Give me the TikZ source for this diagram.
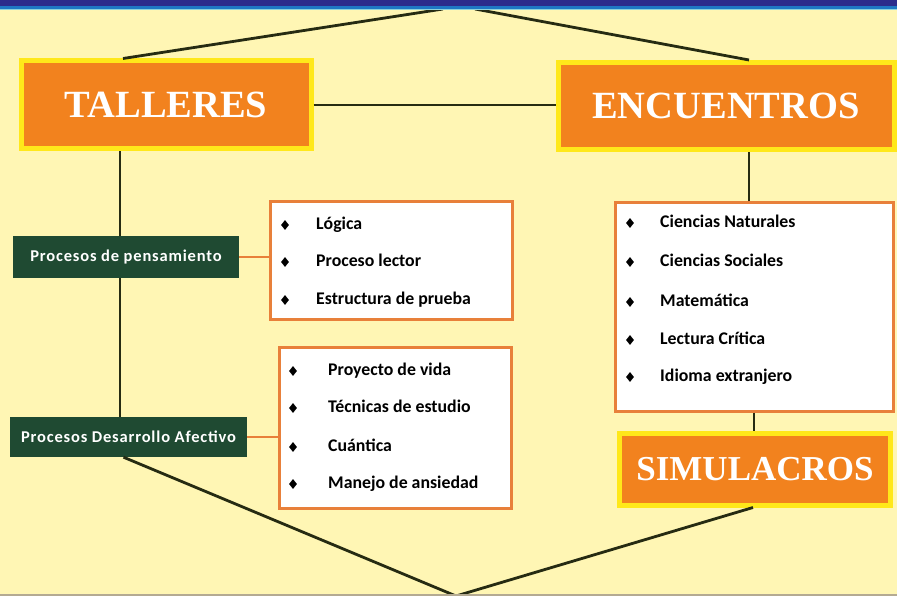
\documentclass[tikz,border=0pt]{standalone}
\usepackage{fontspec}
\setmainfont{Carlito}
\newfontfamily\titulofont{Liberation Serif}
\newfontfamily\procesofont[LetterSpace=5]{Carlito}
\usetikzlibrary{shapes.geometric}
\definecolor{fondo}{HTML}{FFF6B4}
\definecolor{naranja}{HTML}{F2821E}
\definecolor{amarillo}{HTML}{FFE81A}
\definecolor{verde}{HTML}{1F4A32}
\definecolor{naranjalinea}{HTML}{E8803A}
\definecolor{oscuro}{HTML}{262B12}
\definecolor{marino}{HTML}{2B2C8C}
\definecolor{azul}{HTML}{1E78C4}
\definecolor{celeste}{HTML}{8CD2DC}
\definecolor{piso}{HTML}{B4AA92}

\begin{document}
\begin{tikzpicture}[x=1pt,y=-1pt,
  titulo/.style={fill=naranja,draw=amarillo,line width=5pt,text=white,inner sep=0pt,
    font=\titulofont\bfseries\fontsize{38.5}{38.5}\selectfont},
  proceso/.style={fill=verde,text=white,inner sep=0pt,font=\procesofont\bfseries\fontsize{16.5}{16.5}\selectfont},
  lista/.style={fill=white,draw=naranjalinea,line width=3pt,inner sep=0pt},
  vineta/.style={diamond,fill=black,inner sep=0pt,minimum width=8pt,minimum height=10pt},
  renglon/.style={anchor=west,inner sep=0pt,text height=12.5pt,text depth=4pt,
    font=\bfseries\fontsize{17.8}{17.8}\selectfont},
  enlace/.style={draw=oscuro,line width=2.8pt},
  ramal/.style={draw=naranjalinea,line width=2.5pt}]
  % fondo
  \fill[fondo] (0,0) rectangle (897,596);
  \useasboundingbox (0,0) rectangle (897,596);

  % cajas principales
  \node[titulo,minimum width=290pt,minimum height=88pt] (talleres) at (166,105) {TALLERES};
  \node[titulo,minimum width=336pt,minimum height=87pt] (encuentros) at (726,106) {ENCUENTROS};
  \node[titulo,minimum width=271pt,minimum height=72pt,
    font=\titulofont\bfseries\fontsize{35}{35}\selectfont] (simulacros) at (755,469) {SIMULACROS};

  % procesos
  \node[proceso,minimum width=226pt,minimum height=42pt] (pensamiento) at (126,257) {Procesos de pensamiento};
  \node[proceso,minimum width=237pt,minimum height=40pt] (afectivo) at (128.5,437) {Procesos Desarrollo Afectivo};

  % listas
  \node[lista,minimum width=242pt,minimum height=117pt] (lista1) at (391,260.5) {};
  \node[lista,minimum width=232pt,minimum height=161pt] (lista2) at (395,427.5) {};
  \node[lista,minimum width=278pt,minimum height=208pt] (lista3) at (754,307) {};

  \foreach \y/\t [count=\i] in {225/Lógica,262/Proceso lector,300/Estructura de prueba}{
    \node[vineta] (v1-\i) at (285,\y) {};
    \node[renglon] (r1-\i) at (316,\y) {\t};
  }
  \foreach \y/\t [count=\i] in {371/Proyecto de vida,408/Técnicas de estudio,447/Cuántica,484/Manejo de ansiedad}{
    \node[vineta] (v2-\i) at (293,\y) {};
    \node[renglon] (r2-\i) at (328,\y) {\t};
  }
  \foreach \y/\t [count=\i] in {223/Ciencias Naturales,262/Ciencias Sociales,302/Matemática,340/Lectura Crítica,377/Idioma extranjero}{
    \node[vineta] (v3-\i) at (630,\y) {};
    \node[renglon] (r3-\i) at (660,\y) {\t};
  }

  % conectores
  \coordinate (cimaI) at (443,9);
  \coordinate (cimaD) at (475,9);
  \coordinate (base) at (456,596);
  \draw[enlace] (cimaI) -- ([xshift=-43pt]talleres.north);
  \draw[enlace] (cimaD) -- ([xshift=23pt]encuentros.north);
  \draw[enlace] (talleres.east) -- (talleres.east -| encuentros.west);
  \draw[enlace] ([xshift=-46pt]talleres.south) -- ([xshift=-46pt]talleres.south |- pensamiento.north);
  \draw[enlace] ([xshift=-46pt]talleres.south |- pensamiento.south) -- ([xshift=-46pt]talleres.south |- afectivo.north);
  \draw[enlace] ([xshift=-5pt]afectivo.south) -- (base);
  \draw[enlace] ([xshift=-2pt]simulacros.south) -- (base);
  \draw[enlace] ([xshift=-5pt]lista3.north) -- ([xshift=-5pt]lista3.north |- encuentros.south);
  \draw[enlace] (lista3.south) -- (lista3.south |- simulacros.north);
  \draw[ramal] (pensamiento.east) -- (pensamiento.east -| lista1.west);
  \draw[ramal] (afectivo.east) -- (afectivo.east -| lista2.west);

  % bandas
  \fill[marino] (0,0) rectangle (897,6);
  \fill[azul] (0,6) rectangle (897,9);
  \fill[celeste] (0,9) rectangle (897,10.5);
  \fill[piso] (0,594) rectangle (897,596);
\end{tikzpicture}
\end{document}
